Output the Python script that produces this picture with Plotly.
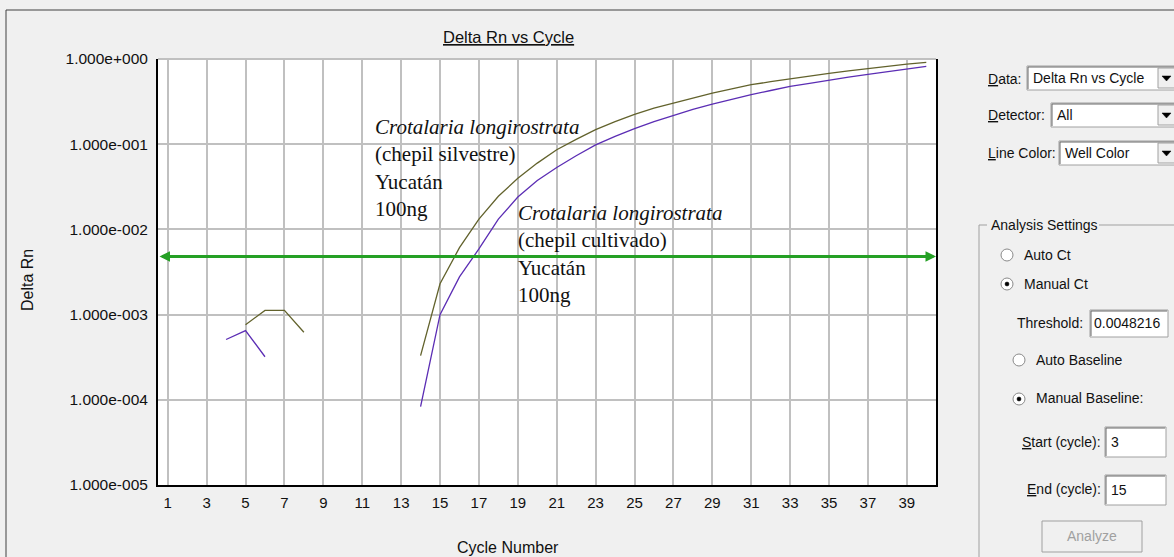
import plotly.graph_objects as go
import math

# ---------------- data ----------------
cycles = list(range(1, 41))
silvestre = [None, None, None, None, 7.6e-4, 1.12e-3, 1.12e-3, 6.2e-4,
             None, None, None, None, None, 3.3e-4, 2.3e-3, 6.1e-3,
             1.32e-2, 2.45e-2, 3.98e-2, 6.0e-2, 8.6e-2, 0.114, 0.148, 0.1845,
             0.224, 0.265, 0.304, 0.350, 0.398, 0.447, 0.499, 0.541,
             0.587, 0.631, 0.677, 0.725, 0.775, 0.823, 0.873, 0.912]
cultivado = [None, None, None, 5.1e-4, 6.5e-4, 3.2e-4, None, None,
             None, None, None, None, None, 8.3e-5, 1.0e-3, 2.77e-3,
             5.9e-3, 1.32e-2, 2.4e-2, 3.75e-2, 5.33e-2, 7.32e-2, 9.8e-2, 0.1236,
             0.1527, 0.1845, 0.2194, 0.2566, 0.296, 0.337, 0.381, 0.427,
             0.476, 0.519, 0.566, 0.611, 0.659, 0.71, 0.762, 0.818]
threshold = 0.0048216
x_ticks = list(range(1, 40, 2))
y_ticks = [1e-5, 1e-4, 1e-3, 1e-2, 1e-1, 1e0]
y_ticktext = ["1.000e-005", "1.000e-004", "1.000e-003", "1.000e-002", "1.000e-001", "1.000e+000"]

W, H = 1174, 557
L, R, T, B = 158, 936, 59, 485

def px(x):
    return (x - L) / (R - L)

def py(y):
    return (B - y) / (B - T)

OLIVE = "#62622c"
PURPLE = "#5b2db4"
GREEN = "#25a025"
SANS = "Liberation Sans, Arial, sans-serif"
SERIF = "Liberation Serif, Times New Roman, serif"
TXT = "#111111"

fig = go.Figure()
fig.add_trace(go.Scatter(x=cycles, y=silvestre, mode="lines",
                         line=dict(color=OLIVE, width=1.3), connectgaps=False,
                         name="silvestre", hoverinfo="skip"))
fig.add_trace(go.Scatter(x=cycles, y=cultivado, mode="lines",
                         line=dict(color=PURPLE, width=1.3), connectgaps=False,
                         name="cultivado", hoverinfo="skip"))

annotations = []
shapes = []

# threshold line with arrowheads at both ends
annotations.append(dict(x=40.5, y=math.log10(threshold), ax=0.5, ay=math.log10(threshold),
                        xref="x", yref="y", axref="x", ayref="y", showarrow=True,
                        arrowhead=2, arrowside="end+start", arrowsize=0.7,
                        arrowwidth=3, arrowcolor=GREEN, standoff=0, startstandoff=0, text=""))

# top border (gray, like grid)
shapes.append(dict(type="line", xref="paper", yref="paper", x0=0, x1=1, y0=1, y1=1,
                   line=dict(color="#c0c0c0", width=2), layer="above"))

# species annotations
annotations.append(dict(xref="paper", yref="paper", x=px(373), y=py(167.5), xanchor="left",
                        yanchor="middle", showarrow=False, align="left",
                        font=dict(family=SERIF, size=21, color=TXT),
                        text="<i>Crotalaria longirostrata</i><br>(chepil silvestre)<br>Yucatán<br>100ng"))
annotations.append(dict(xref="paper", yref="paper", x=px(516), y=py(254), xanchor="left",
                        yanchor="middle", showarrow=False, align="left",
                        font=dict(family=SERIF, size=21, color=TXT),
                        text="<i>Crotalaria longirostrata</i><br>(chepil cultivado)<br>Yucatán<br>100ng"))

# title and axis titles
annotations.append(dict(xref="paper", yref="paper", x=px(508), y=py(37), xanchor="center",
                        yanchor="middle", showarrow=False,
                        font=dict(family=SANS, size=16.5, color=TXT), text="<u>Delta Rn vs Cycle</u>"))
annotations.append(dict(xref="paper", yref="paper", x=px(27), y=py(280), xanchor="center",
                        yanchor="middle", showarrow=False, textangle=-90,
                        font=dict(family=SANS, size=16, color=TXT), text="Delta Rn"))
annotations.append(dict(xref="paper", yref="paper", x=px(508), y=py(547), xanchor="center",
                        yanchor="middle", showarrow=False,
                        font=dict(family=SANS, size=16, color=TXT), text="Cycle Number"))

# outer frame
shapes.append(dict(type="line", xref="paper", yref="paper", x0=px(6), x1=px(1174), y0=py(10), y1=py(10),
                   line=dict(color="#404040", width=1)))
shapes.append(dict(type="line", xref="paper", yref="paper", x0=px(6), x1=px(6), y0=py(10), y1=py(557),
                   line=dict(color="#404040", width=1)))

# ---------------- right control panel ----------------
def label(x, y, text, color=TXT, anchor="left"):
    annotations.append(dict(xref="paper", yref="paper", x=px(x), y=py(y), xanchor=anchor,
                            yanchor="middle", showarrow=False,
                            font=dict(family=SANS, size=14, color=color), text=text))

def box(x0, y0, x1, y1, fill="white"):
    shapes.append(dict(type="rect", xref="paper", yref="paper", x0=px(x0), x1=px(x1),
                       y0=py(y1), y1=py(y0), fillcolor=fill, line=dict(color="#a0a0a0", width=1)))
    shapes.append(dict(type="path", xref="paper", yref="paper",
                       path=f"M {px(x0+1)} {py(y1-1)} L {px(x0+1)} {py(y0+1)} L {px(x1-1)} {py(y0+1)}",
                       line=dict(color="#696969", width=1)))

def dropdown(x0, y0, y1, text):
    box(x0, y0, 1180, y1)
    label(x0 + 4, (y0 + y1) / 2, text)
    shapes.append(dict(type="rect", xref="paper", yref="paper", x0=px(1158), x1=px(1180),
                       y0=py(y1 - 2), y1=py(y0 + 2), fillcolor="#f0f0f0",
                       line=dict(color="#a0a0a0", width=1)))
    cy = (y0 + y1) / 2
    shapes.append(dict(type="path", xref="paper", yref="paper",
                       path=f"M {px(1162)} {py(cy-2)} L {px(1171)} {py(cy-2)} L {px(1166.5)} {py(cy+3)} Z",
                       fillcolor="black", line=dict(color="black", width=0.5)))

def radio(x, y, on):
    shapes.append(dict(type="circle", xref="paper", yref="paper", x0=px(x-6), x1=px(x+6),
                       y0=py(y+6), y1=py(y-6), fillcolor="white",
                       line=dict(color="#8a8a8a", width=1)))
    if on:
        shapes.append(dict(type="circle", xref="paper", yref="paper", x0=px(x-2), x1=px(x+2),
                           y0=py(y+2), y1=py(y-2), fillcolor="black",
                           line=dict(color="black", width=0.5)))

label(986, 79, "<u>D</u>ata:")
dropdown(1027, 66, 90, "Delta Rn vs Cycle")
label(986, 115, "<u>D</u>etector:")
dropdown(1051, 103, 127, "All")
label(986, 153, "<u>L</u>ine Color:")
dropdown(1059, 141, 165, "Well Color")

# group box
shapes.append(dict(type="path", xref="paper", yref="paper",
                   path=f"M {px(987)} {py(225)} L {px(979)} {py(225)} L {px(979)} {py(560)}",
                   line=dict(color="#a0a0a0", width=1)))
shapes.append(dict(type="line", xref="paper", yref="paper", x0=px(1099), x1=px(1180),
                   y0=py(225), y1=py(225), line=dict(color="#a0a0a0", width=1)))
label(989, 225, "Analysis Settings")

radio(1007, 255, False)
label(1022, 255, "Auto Ct")
radio(1007, 284, True)
label(1022, 284, "Manual Ct")
label(1015, 323, "Threshold:")
box(1090, 310, 1168, 337)
label(1092, 323, "0.0048216")
radio(1019, 360, False)
label(1034, 360, "Auto Baseline")
radio(1019, 399, True)
label(1034, 398, "Manual Baseline:")
label(1020, 442, "<u>S</u>tart (cycle):")
box(1105, 427, 1166, 457)
label(1109, 442, "3")
label(1025, 489, "<u>E</u>nd (cycle):")
box(1105, 475, 1166, 505)
label(1109, 490, "15")
# Analyze button
shapes.append(dict(type="rect", xref="paper", yref="paper", x0=px(1042), x1=px(1142),
                   y0=py(552), y1=py(521), fillcolor="#f0f0f0", line=dict(color="#a0a0a0", width=1)))
label(1092, 536, "Analyze", color="#a0a0a0", anchor="center")

fig.update_layout(
    width=W, height=H,
    margin=dict(l=L, r=W - R, t=T, b=H - B),
    paper_bgcolor="#f0f0f0", plot_bgcolor="white",
    showlegend=False,
    annotations=annotations, shapes=shapes,
    xaxis=dict(range=[0.5, 40.5], tickvals=x_ticks, showgrid=True, gridcolor="#c0c0c0",
               gridwidth=2, zeroline=False, showline=True, linecolor="black", linewidth=2,
               mirror=False, ticks="", ticklabelstandoff=3,
               tickfont=dict(family=SANS, size=15, color=TXT)),
    yaxis=dict(type="log", range=[-5, 0], tickvals=y_ticks, ticktext=y_ticktext,
               showgrid=True, gridcolor="#c0c0c0", gridwidth=2, zeroline=False,
               showline=True, linecolor="black", linewidth=2, mirror=True, ticks="",
               ticklabelstandoff=5, tickfont=dict(family=SANS, size=15.5, color=TXT)),
)

fig.write_html("out.html", config={"displayModeBar": False})
